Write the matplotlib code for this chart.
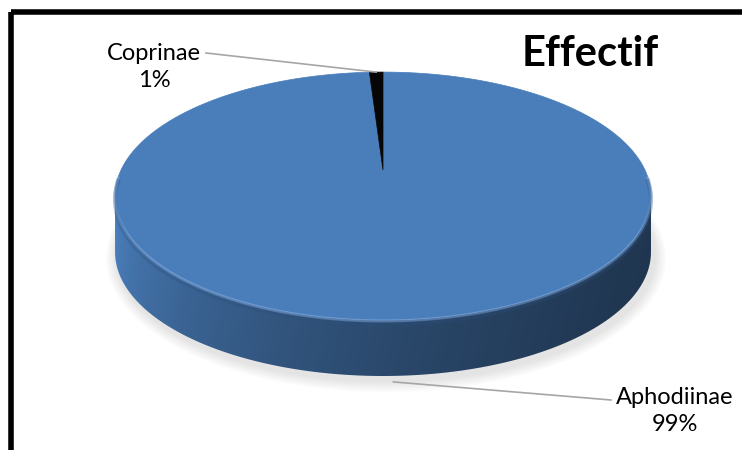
import numpy as np
import matplotlib
matplotlib.use("Agg")
import matplotlib.pyplot as plt
from matplotlib.patches import Polygon, Rectangle
from matplotlib.colors import to_rgb

# données
labels = ["Aphodiinae", "Coprinae"]
values = [99, 1]
colors = ["#4a7ebb", "#060606"]
title = "Effectif"

W, H = 742, 450
CX, CY = 383, 170          # centre projeté du disque
A, B, K = 262, 118.5, 0.21  # demi-axes et perspective
DEPTH = 56                 # épaisseur du camembert


def project(phi, dy=0.0):
    # phi mesuré dans le sens horaire depuis midi
    u = np.sin(phi)
    v = -np.cos(phi)
    d = 1 - K * v
    return CX + A * u / d, CY + B * v / d + dy


def shade_factor(x):
    t = np.clip((x - 115) / 537.0, 0, 1)
    return 1 - 0.58 * np.sqrt(t)


fig = plt.figure(figsize=(W / 100, H / 100), dpi=100)
ax = fig.add_axes([0, 0, 1, 1])
ax.set_xlim(0, W)
ax.set_ylim(H, 0)
ax.axis("off")

total = float(sum(values))
bounds = np.concatenate([[0], np.cumsum(values)]) / total * 2 * np.pi

# ombre portée
phis = np.linspace(0, 2 * np.pi, 400)
sx, sy = project(phis, DEPTH)
for grow in np.linspace(12, 2, 7):
    px = CX + (sx - CX) * (1 + grow / 270.0) + 3
    py = CY + DEPTH + (sy - CY - DEPTH) * (1 + grow / 150.0) + 4
    ax.add_patch(Polygon(np.c_[px, py], closed=True, facecolor="#8a8a8a",
                         edgecolor="none", alpha=0.03, zorder=1))

# côté visible (arc avant) : dégradé découpé par le contour
xs, _ = project(phis)
phi_r = phis[np.argmax(xs)]
phi_l = phis[np.argmin(xs)]
front = np.linspace(phi_r, phi_l, 300)
fx, fy = project(front)
side_pts = np.r_[np.c_[fx, fy], np.c_[fx[::-1], fy[::-1] + DEPTH]]
side = Polygon(side_pts, closed=True, facecolor="none", edgecolor="none")
ax.add_patch(side)

k_side = np.searchsorted(bounds, np.pi, side="right") - 1
base = np.array(to_rgb(colors[k_side]))
y0, y1 = fy.min() - 2, fy.max() + DEPTH + 2
x0, x1 = fx.min() - 2, fx.max() + 2
gx = np.linspace(x0, x1, 600)
gy = np.linspace(0, 1, 200)
fac = shade_factor(gx)[None, :] * (1.04 - 0.06 * gy[:, None])
img = np.clip(base[None, None, :] * fac[:, :, None], 0, 1)
im = ax.imshow(img, extent=[x0, x1, y1, y0], origin="upper",
               aspect="auto", interpolation="bilinear", zorder=2)
im.set_clip_path(side)

# face supérieure
for k in range(len(values)):
    arc = np.linspace(bounds[k], bounds[k + 1], 200)
    ax_, ay_ = project(arc)
    pts = np.r_[[[CX, CY]], np.c_[ax_, ay_]]
    ax.add_patch(Polygon(pts, closed=True, facecolor=colors[k],
                         edgecolor=colors[k], lw=0.5, zorder=3))

# reflet sur l'arête avant
rim = np.linspace(phi_r - 0.15, phi_l + 0.15, 200)
rx, ry = project(rim)
ax.plot(rx, ry + 1, color="#86b0e4", lw=2.2, alpha=0.5, zorder=4,
        solid_capstyle="round")
ax.plot(rx, ry + 4, color="#2c4f7c", lw=3, alpha=0.3, zorder=4)

# étiquettes et lignes de rappel
mids = 0.5 * (bounds[:-1] + bounds[1:])
label_pos = {"Aphodiinae": (675, 411), "Coprinae": (154, 67)}
line_end = {"Aphodiinae": (611, 400), "Coprinae": (206, 53)}
for k, name in enumerate(labels):
    mx, my = project(mids[k])
    if np.cos(mids[k]) < 0:
        my = my + DEPTH + 6
    ex, ey = line_end[name]
    ax.plot([mx, ex], [my, ey], color="#a6a6a6", lw=1.2, zorder=5)
    tx, ty = label_pos[name]
    pct = "%d%%" % round(values[k] / total * 100)
    ax.text(tx, ty, name + "\n" + pct, ha="center", va="center",
            fontsize=17, family="Lato", linespacing=1.32, zorder=6)

ax.text(590, 54, title, ha="center", va="center", fontsize=30,
        fontweight="bold", family="Lato", zorder=6)

# cadre
ax.add_patch(Rectangle((10.5, 12.3), 800, 500, fill=False, edgecolor="black",
                       lw=4, zorder=7))

fig.savefig("out.png", dpi=100)
